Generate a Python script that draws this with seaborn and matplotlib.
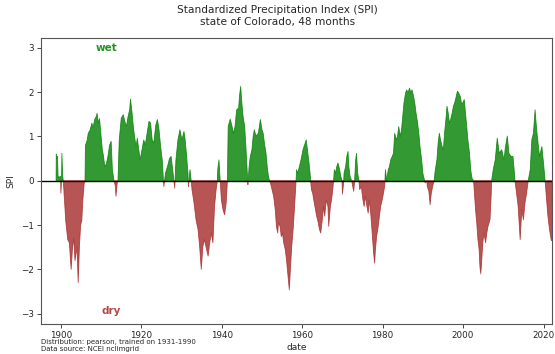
import numpy as np
import pandas as pd
import seaborn as sns
from matplotlib import pyplot as plt

# SPI (48 months): (year, value) knots
spi_year = [
    1898.8, 1898.85, 1899.0, 1899.15, 1899.3, 1899.6, 1899.9, 1900.0, 1900.15, 1900.25,
    1900.45, 1900.6, 1900.8, 1901.2, 1901.7, 1902.1, 1902.55, 1902.9, 1903.2, 1903.5,
    1904.0, 1904.3, 1904.6, 1904.9, 1905.2, 1905.4, 1905.8, 1906.0,
    1906.1, 1906.5, 1906.8, 1907.3, 1907.7, 1908.0, 1908.4, 1908.8, 1909.0, 1909.3,
    1909.6, 1910.0, 1910.3, 1910.6, 1910.9, 1911.3, 1911.7, 1912.1, 1912.5, 1912.8,
    1913.2, 1913.5, 1913.7, 1914.0, 1914.2,
    1914.5, 1915.0, 1915.5, 1915.9, 1916.3, 1916.7, 1917.1, 1917.3, 1917.7, 1918.0,
    1918.3, 1918.7, 1919.0, 1919.3, 1919.7, 1920.0, 1920.3, 1920.6, 1921.0, 1921.5,
    1921.9, 1922.3, 1922.7, 1923.1, 1923.6, 1924.0, 1924.4, 1924.8, 1925.2, 1925.5,
    1925.6, 1926.0, 1926.5, 1927.0, 1927.4, 1927.8, 1928.1, 1928.3, 1928.6, 1929.1,
    1929.6, 1930.1, 1930.6, 1930.9, 1931.2, 1931.6, 1931.7, 1932.1, 1932.4,
    1932.6, 1933.1, 1933.6, 1934.1, 1934.5, 1934.9, 1935.3, 1935.7, 1936.1, 1936.6,
    1937.0, 1937.4, 1937.8, 1938.2, 1938.6, 1938.9, 1939.0, 1939.3, 1939.5, 1939.7,
    1939.9, 1940.3, 1940.7, 1941.1, 1941.4,
    1941.6, 1942.1, 1942.5, 1942.9, 1943.3, 1943.7, 1944.2, 1944.4, 1944.7, 1945.0,
    1945.3, 1945.7, 1946.0, 1946.3, 1946.5, 1946.8, 1947.1, 1947.5, 1947.8, 1948.1,
    1948.5, 1948.8, 1949.1, 1949.6, 1950.0, 1950.3, 1950.6, 1951.0, 1951.3, 1951.6,
    1951.9, 1952.1, 1952.5, 1952.9, 1953.3, 1953.6, 1953.9, 1954.1, 1954.5, 1954.8,
    1955.1, 1955.4, 1955.8, 1956.1, 1956.4, 1956.8, 1957.1, 1957.4, 1957.8, 1958.1,
    1958.4, 1958.6, 1958.9, 1959.3, 1959.7, 1960.2, 1960.6, 1961.0, 1961.3, 1961.7,
    1962.0, 1962.1, 1962.3, 1962.6, 1963.0, 1963.3, 1963.6, 1964.0, 1964.3, 1964.6,
    1965.0, 1965.3, 1965.6, 1966.0, 1966.4, 1966.6, 1967.0, 1967.3, 1967.6, 1967.8,
    1968.0, 1968.3, 1968.6, 1968.9, 1969.3, 1969.6, 1969.9, 1970.0, 1970.3, 1970.4,
    1970.8, 1971.1, 1971.4, 1971.6, 1971.9, 1972.3, 1972.4, 1972.8, 1973.0, 1973.3,
    1973.5, 1973.8, 1974.1, 1974.3, 1974.7, 1975.1, 1975.4, 1975.7, 1976.1, 1976.4,
    1976.7, 1977.1, 1977.4, 1977.7, 1978.0, 1978.2, 1978.5, 1978.9, 1979.2, 1979.5,
    1979.9, 1980.2, 1980.5, 1980.7, 1981.0, 1981.4, 1981.7, 1982.0, 1982.4, 1982.7,
    1983.0, 1983.4, 1983.7, 1984.0, 1984.4, 1984.7, 1985.0, 1985.3, 1985.7, 1986.0,
    1986.3, 1986.7, 1987.0, 1987.3, 1987.7, 1988.0, 1988.3, 1988.7, 1989.0, 1989.3,
    1989.7, 1990.0, 1990.3, 1990.6, 1991.0, 1991.1, 1991.5, 1991.8, 1992.1, 1992.5,
    1992.8, 1993.1, 1993.5, 1993.8, 1994.1, 1994.4, 1994.8, 1995.1, 1995.4, 1995.8,
    1996.0, 1996.3, 1996.6, 1996.9, 1997.3, 1997.6, 1997.9, 1998.3, 1998.6, 1998.9,
    1999.3, 1999.6, 1999.9, 2000.3, 2000.6, 2000.9, 2001.2, 2001.6, 2001.9, 2002.2,
    2002.6, 2002.7, 2003.1, 2003.4, 2003.7, 2004.0, 2004.2, 2004.4, 2004.6, 2004.9,
    2005.2, 2005.6, 2005.9, 2006.2, 2006.7, 2007.0, 2007.1,
    2007.5, 2008.0, 2008.5, 2009.0, 2009.6, 2010.2, 2010.5, 2011.0, 2011.4, 2011.9,
    2012.4, 2012.7, 2012.9, 2013.3, 2013.7, 2014.2, 2014.6, 2015.0, 2015.4, 2015.8,
    2016.2, 2016.7, 2017.1, 2017.5, 2017.9, 2018.3, 2019.0, 2019.6, 2020.0, 2020.4,
    2020.7, 2021.1, 2021.5, 2021.9, 2022.0,
]
spi_value = [
    0.0, 0.6, 0.5, 0.55, 0.1, 0.08, 0.1, -0.28, 0.0, 0.62,
    0.1, 0.0, -0.3, -0.9, -1.33, -1.4, -2.0, -1.5, -1.3, -1.8,
    -1.5, -2.3, -1.5, -1.0, -0.9, -0.5, -0.05, 0.0,
    0.8, 0.9, 1.07, 1.15, 1.3, 1.2, 1.38, 1.45, 1.52, 1.3,
    1.4, 1.0, 0.7, 0.55, 0.32, 0.38, 0.55, 0.8, 0.89, 0.25,
    0.0, -0.1, -0.35, -0.05, 0.0,
    0.92, 1.41, 1.49, 1.34, 1.22, 1.45, 1.6, 1.84, 1.53, 1.23,
    1.0, 0.77, 0.96, 0.74, 0.47, 0.62, 0.77, 0.92, 0.81, 1.11,
    1.34, 1.3, 0.92, 0.85, 1.26, 1.38, 1.15, 0.77, 0.47, 0.0,
    -0.13, 0.17, 0.32, 0.5, 0.55, 0.25, 0.0, -0.17, 0.47, 0.92,
    1.15, 0.92, 1.11, 0.92, 0.62, 0.17, -0.13, 0.25, 0.0,
    -0.2, -0.5, -0.88, -1.1, -1.48, -2.0, -1.48, -1.33, -1.5, -1.7,
    -1.4, -1.18, -1.4, -0.58, -0.2, 0.0, 0.25, 0.47, 0.17, -0.13,
    -0.43, -0.65, -0.77, -0.5, 0.0,
    1.22, 1.39, 1.25, 1.07, 1.22, 1.6, 1.64, 1.9, 2.13, 1.75,
    1.45, 1.22, 0.77, 0.25, -0.09, 0.32, 0.55, 0.7, 1.0, 1.15,
    1.0, 1.04, 1.07, 1.38, 1.15, 1.07, 0.85, 0.62, 0.32, 0.1,
    0.0, -0.05, -0.2, -0.35, -0.65, -1.03, -1.18, -0.95, -1.03, -1.26,
    -1.18, -1.4, -1.56, -1.78, -2.08, -2.46, -1.93, -1.48, -1.03, -0.58,
    -0.13, 0.25, 0.17, 0.32, 0.47, 0.7, 0.81, 0.92, 0.7, 0.4,
    0.13, 0.0, -0.2, -0.28, -0.5, -0.65, -0.8, -0.95, -1.1, -1.18,
    -0.88, -0.58, -0.8, -0.43, -0.58, -1.03, -0.58, -0.43, -0.2, 0.0,
    0.25, 0.17, 0.32, 0.4, 0.25, 0.1, 0.0, -0.3, -0.05, 0.17,
    0.32, 0.55, 0.66, 0.32, 0.1, 0.0, -0.05, -0.24, -0.05, 0.47,
    0.62, 0.17, 0.0, -0.2, -0.13, -0.43, -0.58, -0.35, -0.58, -0.73,
    -0.43, -0.8, -1.18, -1.56, -1.86, -1.56, -1.26, -1.03, -0.8, -0.58,
    -0.43, -0.28, -0.13, 0.25, 0.0, 0.25, 0.32, 0.47, 0.55, 0.62,
    1.07, 0.92, 1.0, 1.22, 1.0, 1.15, 1.45, 1.75, 1.98, 2.05,
    1.98, 2.09, 1.98, 2.05, 1.9, 1.75, 1.53, 1.3, 1.07, 0.77,
    0.47, 0.17, 0.05, -0.05, 0.0, -0.13, -0.24, -0.54, -0.28, -0.1,
    0.0, 0.25, 0.47, 0.85, 1.07, 0.92, 0.77, 0.7, 1.07, 1.45,
    1.68, 1.53, 1.3, 1.38, 1.53, 1.68, 1.75, 1.9, 2.02, 1.98,
    1.9, 1.75, 1.75, 1.83, 1.53, 1.23, 0.92, 0.62, 0.25, 0.06,
    0.0, -0.1, -0.65, -0.95, -1.33, -1.56, -1.95, -2.1, -1.86, -1.4,
    -1.18, -1.4, -1.18, -1.03, -0.88, -0.3, 0.0,
    0.25, 0.47, 0.96, 0.62, 0.7, 0.47, 0.74, 1.01, 0.62, 0.55,
    0.55, 0.25, 0.0, -0.28, -0.58, -1.33, -0.65, -0.88, -0.5, -0.28,
    0.0, 0.25, 0.93, 1.07, 1.6, 1.15, 0.55, 0.77, 0.4, 0.0,
    -0.35, -0.8, -1.1, -1.33, -1.35,
]

x_ticks = [1900, 1920, 1940, 1960, 1980, 2000, 2020]
y_ticks = [-3, -2, -1, 0, 1, 2, 3]

df = pd.DataFrame({"date": spi_year, "SPI": spi_value})

sns.set_theme(style="ticks")
plt.rcParams["font.family"] = ["DejaVu Sans"]

fig = plt.figure(figsize=(5.55, 3.54), dpi=100)
ax = fig.add_axes([0.0735, 0.085, 0.921, 0.809])

# wet / dry fills
ax.fill_between(df["date"], 0, df["SPI"], where=df["SPI"] >= 0, interpolate=True,
                color="green", alpha=0.8, linewidth=0.6)
ax.fill_between(df["date"], 0, df["SPI"], where=df["SPI"] < 0, interpolate=True,
                color="brown", alpha=0.8, linewidth=0.6)
ax.axhline(0, color="black", linewidth=1)

ax.text(1911.4, 3.0, "wet", color="green", alpha=0.85, fontsize=7.5,
        fontweight="bold", ha="center", va="center")
ax.text(1912.4, -2.93, "dry", color="brown", alpha=0.85, fontsize=7.5,
        fontweight="bold", ha="center", va="center")

ax.set_xlim(1895, 2022.1)
ax.set_ylim(-3.23, 3.23)
ax.set_xticks(x_ticks)
ax.set_yticks(y_ticks)
ax.tick_params(labelsize=6.3, length=3, width=0.6, pad=2)
for s in ax.spines.values():
    s.set_linewidth(0.8)
    s.set_color("#555555")

ax.set_xlabel("date", fontsize=6.5, labelpad=2)
ax.set_ylabel("SPI", fontsize=6.5, labelpad=4)

fig.suptitle("Standardized Precipitation Index (SPI)\nstate of Colorado, 48 months",
             fontsize=7.6, y=0.985, va="top", linespacing=1.15)

fig.text(0.0735, 0.006, "Distribution: pearson, trained on 1931-1990\nData source: NCEI nclimgrid",
         fontsize=5, ha="left", va="bottom", linespacing=1.1)

fig.savefig("out.png", dpi=100)
